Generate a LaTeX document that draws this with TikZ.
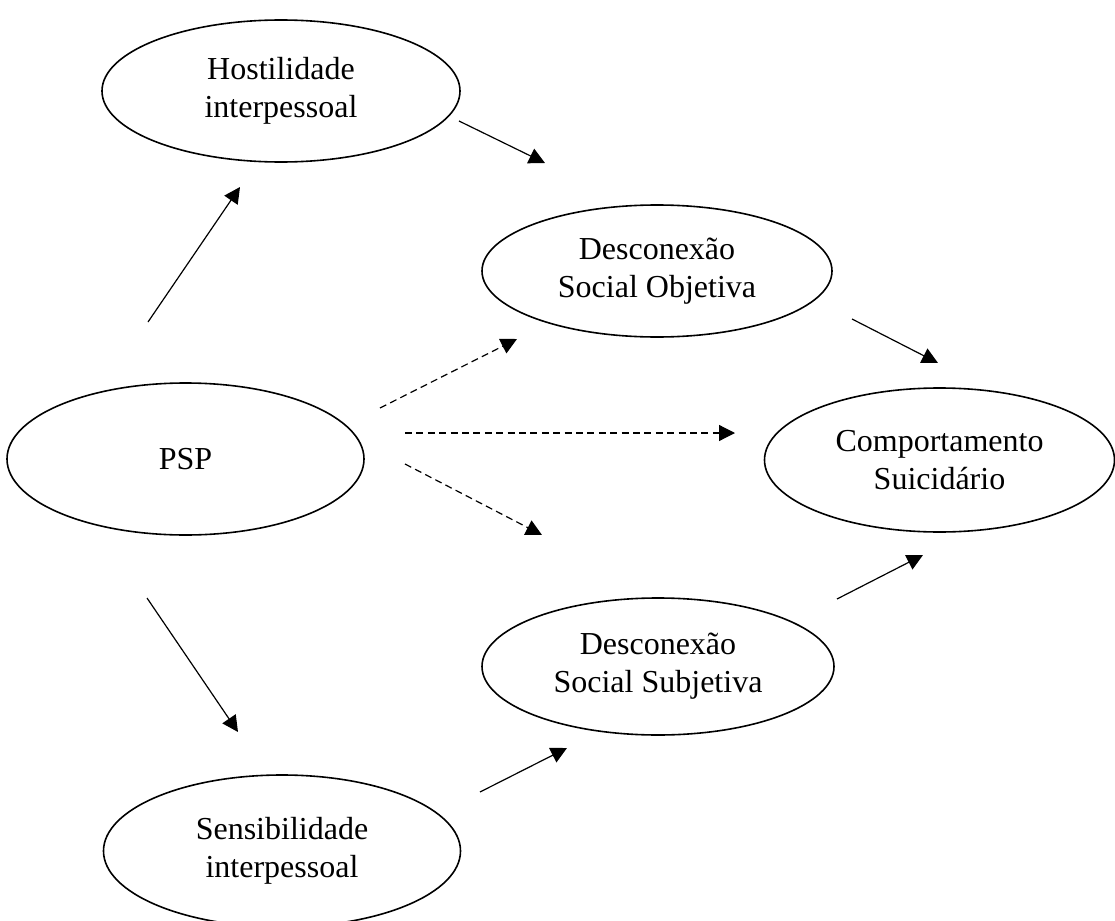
\documentclass[tikz,border=0pt]{standalone}
\usepackage{fontspec}
\setmainfont{Liberation Serif}
\usetikzlibrary{shapes.geometric,arrows.meta}

\begin{document}
\begin{tikzpicture}[x=0.5pt,y=-0.5pt,
    construto/.style={ellipse,draw,line width=0.8pt,inner sep=0pt,align=center,font=\fontsize{16}{19}\selectfont},
    seta/.style={-{Triangle[length=8pt,width=8pt]},line width=0.6pt},
    setatracejada/.style={seta,dash pattern=on 3.5pt off 2.2pt}]
    \useasboundingbox (0,0) rectangle (1115,921);
    \node[construto,minimum width=179pt,minimum height=71pt] (hostilidade) at (281,91) {Hostilidade\\interpessoal};
    \node[construto,minimum width=175pt,minimum height=66pt] (dso) at (657,271) {Desconexão\\Social Objetiva};
    \node[construto,minimum width=178.5pt,minimum height=76pt] (psp) at (185.5,459) {PSP};
    \node[construto,minimum width=175pt,minimum height=72pt] (comportamento) at (939.5,460) {Comportamento\\Suicidário};
    \node[construto,minimum width=176pt,minimum height=68.5pt] (dss) at (658,666.5) {Desconexão\\Social Subjetiva};
    \node[construto,minimum width=178.5pt,minimum height=76pt] (sensibilidade) at (282,851) {Sensibilidade\\interpessoal};
    \coordinate (psp-h) at (148,322);
    \coordinate (h-psp) at (240,187);
    \coordinate (h-dso) at (459,121);
    \coordinate (dso-h) at (545,163);
    \coordinate (psp-dso) at (380,408);
    \coordinate (dso-psp) at (517,339);
    \coordinate (psp-c) at (405,433);
    \coordinate (c-psp) at (735,433);
    \coordinate (psp-dss) at (405,464);
    \coordinate (dss-psp) at (542,535);
    \coordinate (dso-c) at (852,319);
    \coordinate (c-dso) at (938,363);
    \coordinate (dss-c) at (837,599);
    \coordinate (c-dss) at (923,555);
    \coordinate (psp-s) at (147,598);
    \coordinate (s-psp) at (238,732);
    \coordinate (s-dss) at (480,792);
    \coordinate (dss-s) at (567,748);
    \draw[seta] (psp-h) -- (h-psp);
    \draw[seta] (h-dso) -- (dso-h);
    \draw[setatracejada] (psp-dso) -- (dso-psp);
    \draw[setatracejada] (psp-c) -- (c-psp);
    \draw[setatracejada] (psp-dss) -- (dss-psp);
    \draw[seta] (dso-c) -- (c-dso);
    \draw[seta] (dss-c) -- (c-dss);
    \draw[seta] (psp-s) -- (s-psp);
    \draw[seta] (s-dss) -- (dss-s);
\end{tikzpicture}
\end{document}
